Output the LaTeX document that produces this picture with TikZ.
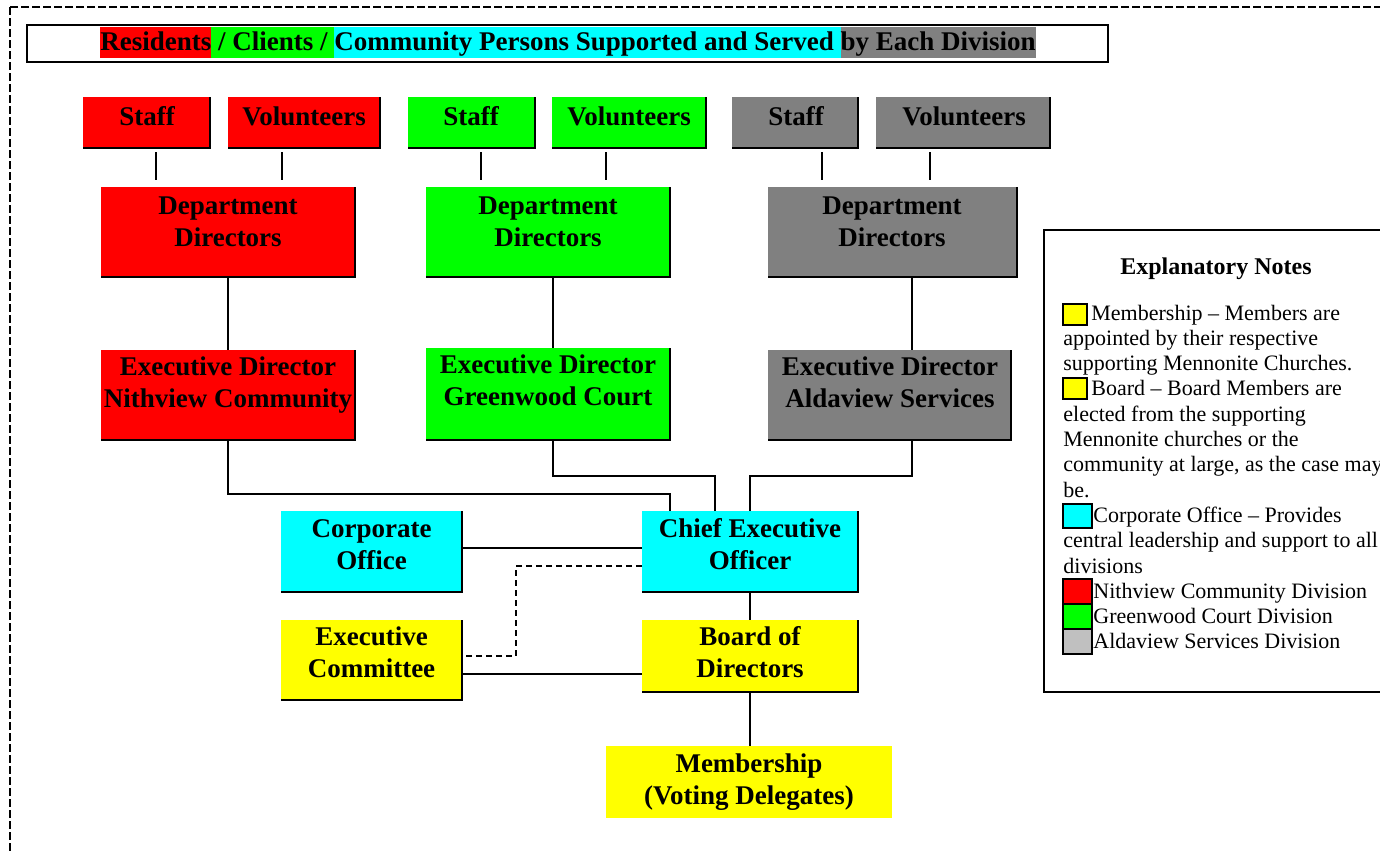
\documentclass[tikz,border=0pt]{standalone}
\usepackage{fontspec}
\setmainfont{Liberation Serif}
\usetikzlibrary{fit,calc}
\definecolor{cR}{HTML}{FF0000}
\definecolor{cG}{HTML}{00FF00}
\definecolor{cC}{HTML}{00FFFF}
\definecolor{cY}{HTML}{808080}
\definecolor{cYel}{HTML}{FFFF00}
\definecolor{cLG}{HTML}{C0C0C0}
\newcommand\ml[1]{\begin{tabular}[t]{@{}c@{}}#1\end{tabular}}
\newcommand\hs{\rule[-4pt]{0pt}{15.5pt}}
\tikzset{
  btxt/.style={font=\fontsize{13.5}{16}\selectfont\bfseries, inner sep=0pt, anchor=base},
  edgeline/.style={line width=0.8pt, black},
  conn/.style={line width=0.75pt, black},
  key/.style={draw=black, line width=1.3pt},
}
\newcommand\obox[4]{%
  \node[fill=#2, inner sep=0pt, outer sep=0pt, fit={(#3) (#4)}] (#1) {};
  \draw[edgeline] (#1.north east) -- (#1.south east) -- (#1.south west);}
\begin{document}
\begin{tikzpicture}[x=0.5pt,y=-0.5pt]
\useasboundingbox (0,0) rectangle (1380,852);
\clip (0,0) rectangle (1380,852);
% outer dashed frame
\draw[line width=0.7pt, dash pattern=on 4pt off 1.5pt] (10,7) rectangle (1420,900);
% title
\draw[line width=1pt] (27,25) rectangle (1108,62);
\node[font=\fontsize{13.5}{16}\selectfont\bfseries, inner sep=0pt, anchor=base west] (title) at (100,50)
 {\setlength{\fboxsep}{0pt}\colorbox{cR}{\hs Residents}\colorbox{cG}{\hs\ / Clients /\ }\colorbox{cC}{\hs Community Persons Supported and Served\ }\colorbox{cY}{\hs by Each Division}};
% staff / volunteers
\obox{sR}{cR}{83,97}{210,148}
\obox{vR}{cR}{228,97}{380,148}
\obox{sG}{cG}{408,97}{535,148}
\obox{vG}{cG}{552,97}{706,148}
\obox{sY}{cY}{732,97}{858,148}
\obox{vY}{cY}{876,97}{1050,148}
\node[btxt] (tsR) at (147,125) {Staff};
\node[btxt] (tvR) at (304,125) {Volunteers};
\node[btxt] (tsG) at (471,125) {Staff};
\node[btxt] (tvG) at (629,125) {Volunteers};
\node[btxt] (tsY) at (796,125) {Staff};
\node[btxt] (tvY) at (964,125) {Volunteers};
% department directors
\obox{dR}{cR}{101,187}{355,277}
\obox{dG}{cG}{426,187}{670,277}
\obox{dY}{cY}{768,187}{1017,277}
\node[btxt] (tdR) at (228,214) {\ml{Department\\Directors}};
\node[btxt] (tdG) at (548,214) {\ml{Department\\Directors}};
\node[btxt] (tdY) at (892,214) {\ml{Department\\Directors}};
% executive directors
\obox{exR}{cR}{101,350}{355,440}
\obox{exG}{cG}{426,348}{670,440}
\obox{exY}{cY}{768,350}{1011,440}
\node[btxt] (texR) at (228,375) {\ml{Executive Director\\Nithview Community}};
\node[btxt] (texG) at (548,373) {\ml{Executive Director\\Greenwood Court}};
\node[btxt] (texY) at (890,375) {\ml{Executive Director\\Aldaview Services}};
% central boxes
\obox{corp}{cC}{281,511}{462,592}
\obox{ceo}{cC}{642,511}{858,592}
\obox{ec}{cYel}{281,620}{462,700}
\obox{board}{cYel}{642,620}{858,692}
\node[fill=cYel, inner sep=0pt, outer sep=0pt, fit={(606,746) (892,818)}] (mem) {};
\node[btxt] (tcorp) at (371.5,537) {\ml{Corporate\\Office}};
\node[btxt] (tceo) at (750,537) {\ml{Chief Executive\\Officer}};
\node[btxt] (tec) at (371.5,645) {\ml{Executive\\Committee}};
\node[btxt] (tboard) at (750,645) {\ml{Board of\\Directors}};
\node[btxt] (tmem) at (749,772) {\ml{Membership\\(Voting Delegates)}};
% helper coordinates
\coordinate (x1) at (156,0);
\coordinate (x2) at (282,0);
\coordinate (x3) at (481,0);
\coordinate (x4) at (606,0);
\coordinate (x5) at (822,0);
\coordinate (x6) at (930,0);
\coordinate (g553) at (553,0);
\coordinate (y912) at (912,0);
\coordinate (jr) at (670,494);
\coordinate (jg) at (715,476);
\coordinate (jy) at (750,476);
\coordinate (d1) at (516,600);
\coordinate (yb) at (0,674);
\coordinate (yc) at (0,548);
% short connectors staff/volunteers -> departments
\draw[conn] ([yshift=-2pt]sR.south -| x1) -- ([yshift=3.5pt]dR.north -| x1);
\draw[conn] ([yshift=-2pt]vR.south -| x2) -- ([yshift=3.5pt]dR.north -| x2);
\draw[conn] ([yshift=-2pt]sG.south -| x3) -- ([yshift=3.5pt]dG.north -| x3);
\draw[conn] ([yshift=-2pt]vG.south -| x4) -- ([yshift=3.5pt]dG.north -| x4);
\draw[conn] ([yshift=-2pt]sY.south -| x5) -- ([yshift=3.5pt]dY.north -| x5);
\draw[conn] ([yshift=-2pt]vY.south -| x6) -- ([yshift=3.5pt]dY.north -| x6);
% departments -> executive directors
\draw[conn] (dR.south) -- (exR.north);
\draw[conn] (dG.south -| g553) -- (exG.north -| g553);
\draw[conn] (dY.south -| y912) -- (exY.north -| y912);
% executive directors -> CEO
\draw[conn] (exR.south) |- (jr) -- (jr |- ceo.north);
\draw[conn] (exG.south -| g553) |- (jg) -- (jg |- ceo.north);
\draw[conn] (exY.south -| y912) |- (jy) -- (jy |- ceo.north);
% central connectors
\draw[conn] (corp.east |- yc) -- (ceo.west |- yc);
\draw[conn, dash pattern=on 3pt off 2pt] ([yshift=-7.25pt]ceo.west) -| (d1) |- ([yshift=2pt]ec.east);
\draw[conn] (ec.east |- yb) -- (board.west |- yb);
\draw[conn] (ceo.south) -- (board.north);
\draw[conn] (board.south) -- (board.south |- mem.north);
% legend
\draw[line width=0.8pt] (1044,230) rectangle (1420,692);
\node[font=\fontsize{12}{14}\selectfont\bfseries, inner sep=0pt, anchor=base] (lt) at (1216,274) {Explanatory Notes};
\draw[key, fill=cYel] (1063,304) rectangle (1087,325);
\draw[key, fill=cYel] (1063,378) rectangle (1087,399);
\draw[key, fill=cC] (1063,504) rectangle (1092,528);
\draw[key, fill=cR] (1063,579) rectangle (1092,604);
\draw[key, fill=cG] (1063,604) rectangle (1092,629);
\draw[key, fill=cLG] (1063,629) rectangle (1092,654);
\node[font=\fontsize{11}{12.65}\selectfont, inner sep=0pt, anchor=base west] (ltext) at (1063,320)
 {\begin{tabular}[t]{@{}l@{}}
 \hspace*{14pt}Membership – Members are\\
 appointed by their respective\\
 supporting Mennonite Churches.\\
 \hspace*{14pt}Board – Board Members are\\
 elected from the supporting\\
 Mennonite churches or the\\
 community at large, as the case may\\
 be.\\
 \hspace*{15pt}Corporate Office – Provides\\
 central leadership and support to all\\
 divisions\\
 \hspace*{15pt}Nithview Community Division\\
 \hspace*{15pt}Greenwood Court Division\\
 \hspace*{15pt}Aldaview Services Division
 \end{tabular}};
\end{tikzpicture}
\end{document}
